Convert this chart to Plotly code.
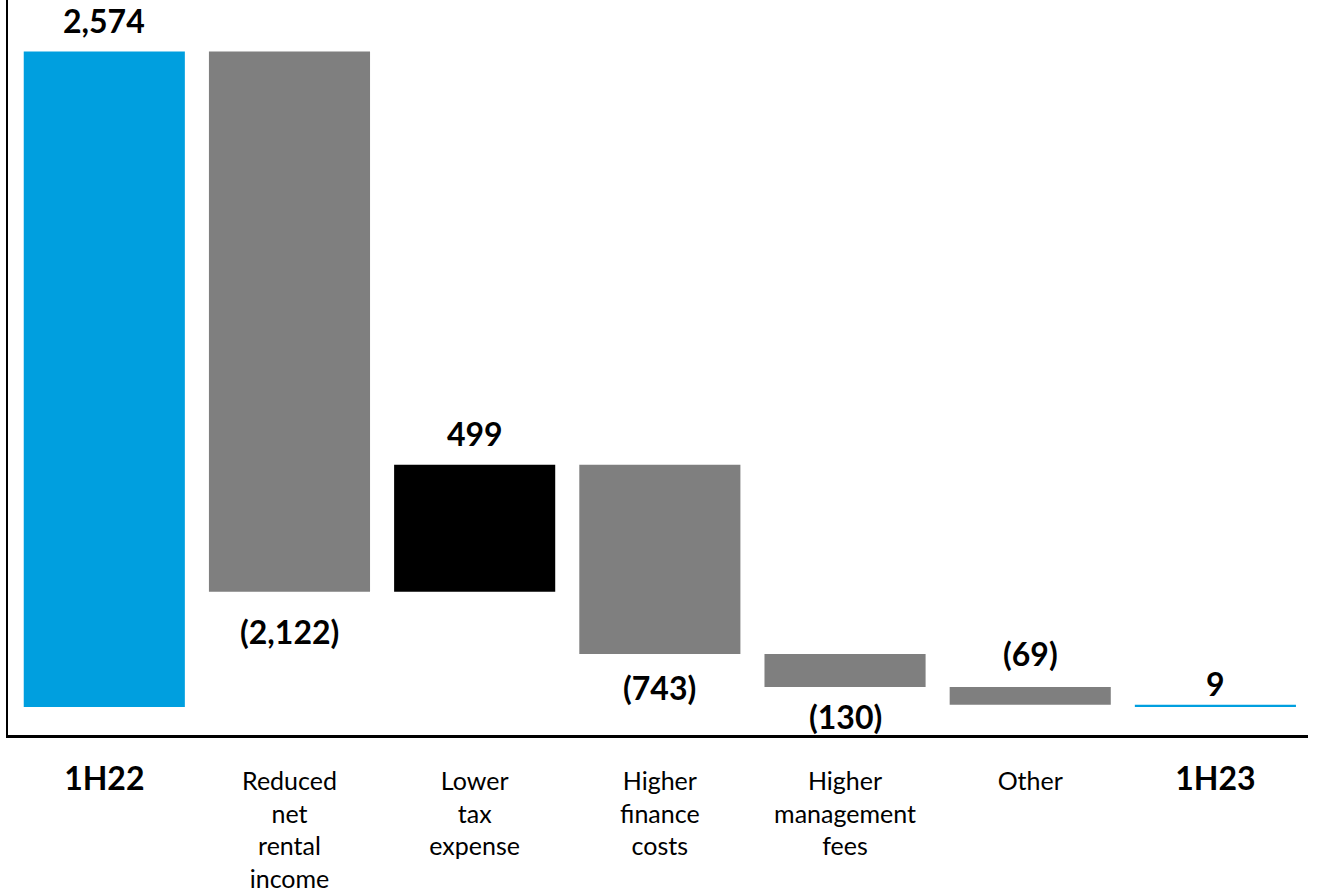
import plotly.graph_objects as go

categories = ["1H22", "Reduced<br>net<br>rental<br>income", "Lower<br>tax<br>expense",
              "Higher<br>finance<br>costs", "Higher<br>management<br>fees", "Other", "1H23"]
values = [2574, -2122, 499, -743, -130, -69, 9]
measures = ["absolute", "relative", "relative", "relative", "relative", "relative", "total"]
value_labels = ["2,574", "(2,122)", "499", "(743)", "(130)", "(69)", "9"]
label_side = ["above", "below", "above", "below", "below", "above", "above"]
label_shift = [9, -18, 10, -12, -8, 12, 0]
bold_cats = [True, False, False, False, False, False, True]

BLUE = "#009FDF"
GRAY = "#7F7F7F"
FONT = "Lato"

xs = list(range(len(categories)))

fig = go.Figure(go.Waterfall(
    x=xs, y=values, measure=measures,
    increasing=dict(marker=dict(color="#000000")),
    decreasing=dict(marker=dict(color=GRAY)),
    totals=dict(marker=dict(color=BLUE)),
    connector=dict(visible=False),
    textposition="none",
    hoverinfo="skip",
))

# compute bar tops/bottoms for annotations
cum = 0
annotations = []
for i, (v, m) in enumerate(zip(values, measures)):
    if m == "absolute":
        lo, hi = 0, v
        cum = v
    elif m == "total":
        lo, hi = 0, cum
    else:
        start = cum
        cum = cum + v
        lo, hi = min(start, cum), max(start, cum)
    if label_side[i] == "above":
        annotations.append(dict(x=i, y=hi, text="<b>%s</b>" % value_labels[i], showarrow=False,
                                yanchor="bottom", yshift=label_shift[i],
                                font=dict(size=32, color="#000", family=FONT)))
    else:
        annotations.append(dict(x=i, y=lo, text="<b>%s</b>" % value_labels[i], showarrow=False,
                                yanchor="top", yshift=label_shift[i],
                                font=dict(size=32, color="#000", family=FONT)))

ticktext = []
for c, b in zip(categories, bold_cats):
    if b:
        ticktext.append('<span style="font-size:32px"><b>%s</b></span>' % c)
    else:
        ticktext.append(c)

fig.update_layout(
    width=1317, height=893,
    margin=dict(l=8, r=9, t=0, b=158),
    paper_bgcolor="white", plot_bgcolor="white",
    font=dict(family=FONT, size=25, color="#000"),
    showlegend=False,
    waterfallgap=0.13,
    annotations=annotations,
    xaxis=dict(tickmode="array", tickvals=xs, ticktext=ticktext, range=[-0.52, 6.5],
               showline=True, linecolor="#000", linewidth=3, ticks="", showgrid=False,
               zeroline=False, ticklabelstandoff=22, automargin=False, fixedrange=True),
    yaxis=dict(range=[-110, 2776], showline=True, linecolor="#000", linewidth=2,
               showticklabels=False, ticks="", showgrid=False, zeroline=False,
               automargin=False, fixedrange=True),
)

fig.write_html("out.html", config={"displayModeBar": False},
               post_script="document.body.style.margin='0';document.body.style.overflow='hidden';")
